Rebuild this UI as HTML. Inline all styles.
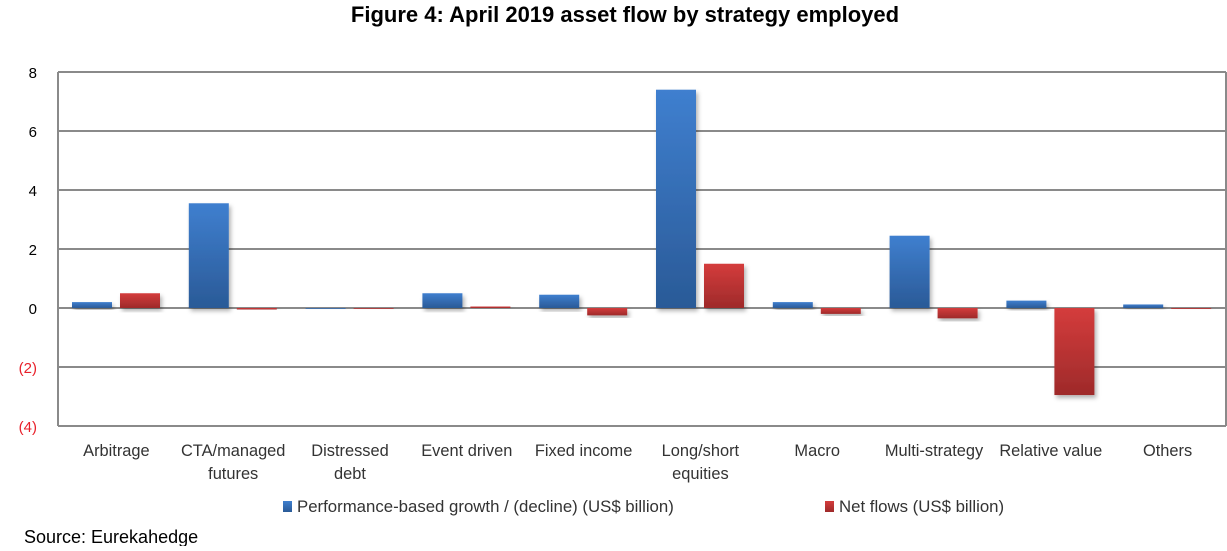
<!DOCTYPE html>
<html><head><meta charset="utf-8"><style>
body{margin:0;background:#fff;width:1227px;height:546px;overflow:hidden;font-family:"Liberation Sans",sans-serif}
svg text{font-family:"Liberation Sans",sans-serif}
</style></head><body>
<svg id="chart" width="1227" height="546" xmlns="http://www.w3.org/2000/svg">
<defs>
<linearGradient id="gb" x1="0" y1="0" x2="0" y2="1"><stop offset="0" stop-color="#3f7fcf"/><stop offset="1" stop-color="#2a5a97"/></linearGradient>
<linearGradient id="gr" x1="0" y1="0" x2="0" y2="1"><stop offset="0" stop-color="#d43c3c"/><stop offset="1" stop-color="#9e2a2a"/></linearGradient>
<filter id="sh" x="-20%" y="-20%" width="150%" height="150%"><feDropShadow dx="2" dy="3" stdDeviation="2" flood-color="#000" flood-opacity="0.3"/></filter>
</defs>
<text x="625" y="22" text-anchor="middle" font-size="22" font-weight="bold" fill="#000">Figure 4: April 2019 asset flow by strategy employed</text>
<g id="grid"></g><g id="bars"></g><g id="labels"></g>
<rect x="283" y="501" width="9" height="11" fill="url(#gb)"/>
<text x="297" y="512" font-size="16.8" fill="#333">Performance-based growth / (decline) (US$ billion)</text>
<rect x="825" y="501" width="9" height="11" fill="url(#gr)"/>
<text x="839" y="512" font-size="16.8" fill="#333">Net flows (US$ billion)</text>
<text x="24" y="543" font-size="18" fill="#000">Source: Eurekahedge</text>
</svg>
<script>
const categories=[["Arbitrage"],["CTA/managed","futures"],["Distressed","debt"],["Event driven"],["Fixed income"],["Long/short","equities"],["Macro"],["Multi-strategy"],["Relative value"],["Others"]];
const performance=[0.2,3.55,0,0.5,0.45,7.4,0.2,2.45,0.25,0.12];
const netFlows=[0.5,-0.05,-0.02,0.05,-0.25,1.5,-0.2,-0.35,-2.95,-0.03];
const ticks=[8,6,4,2,0,-2,-4];
const tickLabels=["8","6","4","2","0","(2)","(4)"];
const NS="http://www.w3.org/2000/svg";
const L=58,R=1226,T=72,B=426,vmin=-4,vmax=8;
const y=v=>T+(vmax-v)/(vmax-vmin)*(B-T);
const cw=(R-L)/categories.length;
const x=i=>L+i*cw;
function mk(tag,attrs,parent){const e=document.createElementNS(NS,tag);for(const k in attrs)e.setAttribute(k,attrs[k]);document.getElementById(parent).appendChild(e);return e;}
ticks.forEach((t,i)=>{
 const g=mk("line",{x1:L,x2:R,y1:y(t),y2:y(t),stroke:"#8a8a8a","stroke-width":2},"grid");
 
 
 const tx=mk("text",{x:37,y:y(t)+6,"text-anchor":"end","font-size":15,fill:t<0?"#e8202a":"#000"},"labels");
 tx.textContent=tickLabels[i];
 
 
});
const ax=mk("line",{x1:L,x2:L,y1:T,y2:B,stroke:"#8a8a8a","stroke-width":2},"grid");


const ax2=mk("line",{x1:R,x2:R,y1:T,y2:B,stroke:"#8a8a8a","stroke-width":2},"grid");


categories.forEach((c,i)=>{
 [[performance[i],14,"url(#gb)"],[netFlows[i],62,"url(#gr)"]].forEach(([v,off,f],j)=>{
  const y0=y(0),y1=y(v);
  const h=Math.max(Math.abs(y1-y0),0.8);
  const r=mk("rect",{x:x(i)+off,y:Math.min(y0,y1),width:40,height:h,fill:f,filter:"url(#sh)"},"bars");
  
  
 });
 c.forEach((line,k)=>{
  const t=mk("text",{x:x(i)+cw/2,y:456+k*23,"text-anchor":"middle","font-size":16.4,fill:"#333"},"labels");
  t.textContent=line;
  
  
 });
});
</script>
</body></html>
